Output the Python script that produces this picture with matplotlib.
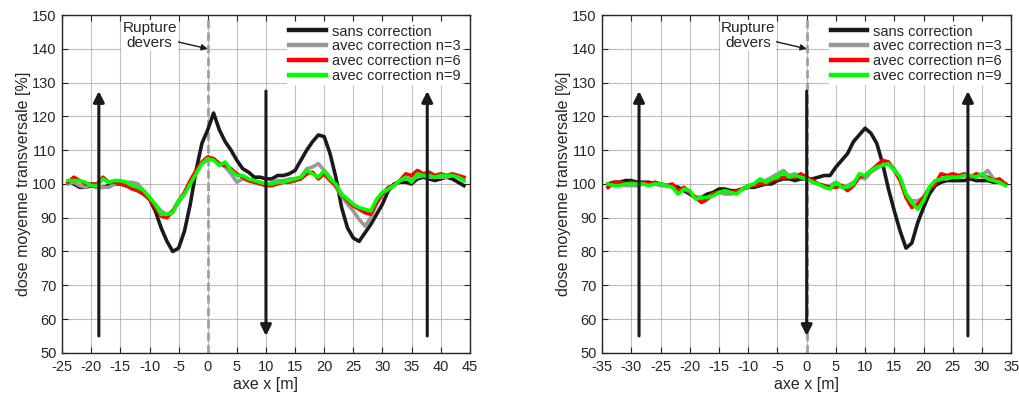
import matplotlib
matplotlib.use("Agg")
import matplotlib.pyplot as plt

plt.rcParams['font.family'] = ['Liberation Sans', 'DejaVu Sans']
plt.rcParams['axes.unicode_minus'] = False

# ---------------- data ----------------
x_left = list(range(-24, 45))
left_sans = [100.5, 100, 99, 99, 99.5, 99, 99, 99.5, 100, 100, 99.5, 99, 98, 97, 95.5, 92, 87, 83, 80, 81,
             86, 94, 104, 112, 116, 121, 116, 112.5, 110, 107, 104.5, 103.5, 102, 102, 101.5, 101.5, 102.5, 102.5, 103, 104,
             107, 110, 112.5, 114.5, 114, 109, 102, 93, 87, 84, 83, 85.5, 88, 91, 94, 98, 100, 100.5, 100.5, 100,
             101.5, 102, 101.5, 101, 101.5, 102, 101.5, 100.5, 99.5]
left_n3 = [100, 100.5, 99.5, 99, 100, 99, 99, 99, 100, 100.5, 100.5, 100.5, 100, 98, 96, 94, 92, 91, 92, 94.5,
           97, 100.5, 103.5, 106, 107, 107.5, 106, 105, 103, 100.5, 101.5, 101, 100.5, 100.5, 99.5, 100.5, 101, 101, 101.5, 101.5,
           102, 104.5, 105, 106, 104, 102, 99, 96.5, 94, 92, 89.5, 87.5, 90, 94, 97, 98.5, 99.5, 101, 101.5, 101.5,
           102, 102.5, 102, 102, 102, 102, 102.5, 102, 101]
left_n6 = [100.5, 102, 101, 100, 100, 100, 102, 100.5, 100.5, 100, 99.5, 98.5, 98, 97, 95.5, 93, 90.5, 90, 92, 95,
           97.5, 101, 104, 106.5, 108, 107.5, 106, 105.5, 104.5, 103, 102, 101, 100.5, 100, 99.5, 99.5, 100, 100.5, 100.5, 101,
           101.5, 103, 103.5, 101.5, 103, 101, 99.5, 97, 95, 93.5, 92.5, 91.5, 91, 94.5, 97, 99, 99.5, 101, 103, 102.5,
           104, 103, 103.5, 102.5, 103, 102.5, 103, 102.5, 102]
left_n9 = [101, 101, 101, 100.5, 99.5, 99.5, 101.5, 100.5, 101, 101, 100.5, 99.5, 99, 98, 96, 94, 91, 91, 91.5, 95,
           97, 100, 103, 106, 107.5, 107, 105.5, 106.5, 104, 102.5, 102.5, 101.5, 101, 100.5, 100, 100, 100.5, 100.5, 101, 101.5,
           102, 104, 103, 102, 104, 101.5, 100, 97, 95.5, 94, 93, 92.5, 92, 95.5, 97.5, 98.5, 99.5, 101, 102, 100.5,
           103, 102.5, 102.5, 102, 102.5, 102.5, 102.5, 102, 101]

x_right = list(range(-34, 35))
right_sans = [100, 100.5, 100.5, 101, 101, 100.5, 100.5, 100.5, 100, 100, 99.5, 99.5, 99, 98, 97, 96, 96, 97, 97.5, 98.5,
              98.5, 98, 98, 98.5, 99, 99, 99.5, 100, 100, 101, 101.5, 101.5, 101, 101.5, 101.5, 101.5, 102, 102.5, 102.5, 105,
              107, 109, 112.5, 114.5, 116.5, 115, 112, 106, 98.5, 92, 86, 81, 82.5, 88.5, 93, 97, 99.5, 100.5, 101, 101,
              101, 101, 101.5, 101, 101, 101, 100.5, 100.5, 100]
right_n3 = [99, 100, 100, 99.5, 99.5, 99.5, 100, 100, 100, 99.5, 99.5, 99.5, 98, 98.5, 97.5, 96, 95.5, 96, 97, 97.5,
            97, 97, 97.5, 98.5, 99, 100, 101, 101, 102, 103, 104, 102.5, 103, 102, 101.5, 101, 100, 99.5, 99.5, 100.5,
            99.5, 99.5, 100.5, 102, 101.5, 103.5, 104.5, 106, 106, 104.5, 101.5, 97, 95, 95, 96, 99, 100.5, 101.5, 101.5, 102,
            102, 102.5, 102, 102.5, 102.5, 104, 101.5, 100.5, 100]
right_n6 = [99, 100.5, 100.5, 100, 100.5, 100, 100.5, 100, 100.5, 100, 99.5, 100, 98, 99, 97.5, 96, 94.5, 95.5, 97, 97.5,
            98, 97.5, 98, 98.5, 99.5, 99.5, 100, 100, 101, 101.5, 102, 102, 102, 103, 102, 101, 100, 99.5, 99, 99,
            99.5, 98, 99.5, 102, 102.5, 104, 105.5, 107, 106.5, 104, 101, 96, 93, 94, 96, 98.5, 100, 103, 102.5, 103,
            102.5, 103, 102, 103, 102.5, 102, 101, 101.5, 100]
right_n9 = [100, 99.5, 99.5, 100, 100, 100, 100, 99.5, 100, 100, 99.5, 99, 97, 98.5, 98, 95.5, 96, 96, 96.5, 97.5,
            98, 97.5, 97, 98.5, 99.5, 100, 101.5, 100.5, 101.5, 102, 103.5, 102, 102.5, 102, 101.5, 100.5, 100, 99, 98.5, 100.5,
            99, 99, 100, 103, 102.5, 104, 105, 105.5, 106, 104, 102, 97, 94.5, 92.5, 95, 99, 101, 101.5, 102, 102,
            102, 102.5, 102.5, 102, 103, 101.5, 101, 100.5, 99.5]

labels = ['sans correction', 'avec correction n=3', 'avec correction n=6', 'avec correction n=9']
colors = ['#1a1a1a', '#999999', '#ff0000', '#00ff00']

left_xticks = list(range(-25, 50, 5))
right_xticks = list(range(-35, 40, 5))
yticks = list(range(50, 160, 10))

left_arrows = [(-18.7, 'up'), (10, 'down'), (37.7, 'up')]
right_arrows = [(-28.7, 'up'), (0, 'down'), (27.6, 'up')]
arrow_low, arrow_high = 55, 127.5

TXT = '#262626'

fig = plt.figure(figsize=(10.19, 3.96), dpi=100)
ax1 = fig.add_axes([0.061, 0.109, 0.4, 0.853])
ax2 = fig.add_axes([0.591, 0.109, 0.4013, 0.853])


def draw(ax, xs, series, xlim, xticks, arrows):
    ax.set_xlim(*xlim)
    ax.set_ylim(50, 150)
    ax.set_xticks(xticks)
    ax.set_yticks(yticks)
    ax.grid(True, color='#a0a0a0', lw=0.8, ls=(0, (1.2, 0.6)))
    ax.set_axisbelow(True)
    ax.axvline(0, color='#a0a0a0', lw=2, ls=(0, (3, 1.5)), zorder=2)
    for s, c, lab in zip(series, colors, labels):
        ax.plot(xs, s, color=c, lw=2.6, label=lab, zorder=3, solid_joinstyle='round')
    for xa, d in arrows:
        if d == 'up':
            start, end = arrow_low, arrow_high
        else:
            start, end = arrow_high, arrow_low
        ax.annotate('', xy=(xa, end), xytext=(xa, start),
                    arrowprops=dict(arrowstyle='-|>', lw=2.2, color='#1a1a1a',
                                    mutation_scale=16, shrinkA=0, shrinkB=0),
                    zorder=5)
    ax.annotate('Rupture\ndevers', xy=(0, 140), xytext=(-10, 144),
                ha='center', va='center', fontsize=11, color=TXT, linespacing=1.1,
                bbox=dict(boxstyle='square,pad=0.05', fc='white', ec='none'),
                arrowprops=dict(arrowstyle='-|>', lw=1, color='#1a1a1a',
                                mutation_scale=9, shrinkA=0, shrinkB=0),
                zorder=6)
    ax.tick_params(axis='x', pad=5)
    ax.tick_params(axis='y', pad=4)
    ax.tick_params(direction='in', top=True, right=True, length=4, width=0.8,
                   labelsize=10.5, colors=TXT)
    for sp in ax.spines.values():
        sp.set_color('#262626')
        sp.set_linewidth(1.0)
    ax.set_xlabel('axe x [m]', fontsize=11.5, color=TXT, labelpad=2)
    ax.set_ylabel('dose moyenne transversale [%]', fontsize=11.5, color=TXT, labelpad=1)
    leg = ax.legend(loc='upper right', fontsize=10.5, frameon=True, fancybox=False,
                    framealpha=1, edgecolor='none', borderpad=0.15, borderaxespad=0.5,
                    labelspacing=0.05, handlelength=2.5, handletextpad=0.4)
    for h in leg.get_lines():
        h.set_linewidth(3.2)
    for t in leg.get_texts():
        t.set_color(TXT)
    leg.set_zorder(7)


draw(ax1, x_left, [left_sans, left_n3, left_n6, left_n9], (-25, 45), left_xticks, left_arrows)
draw(ax2, x_right, [right_sans, right_n3, right_n6, right_n9], (-35, 35), right_xticks, right_arrows)

fig.savefig('out.png', dpi=100)
